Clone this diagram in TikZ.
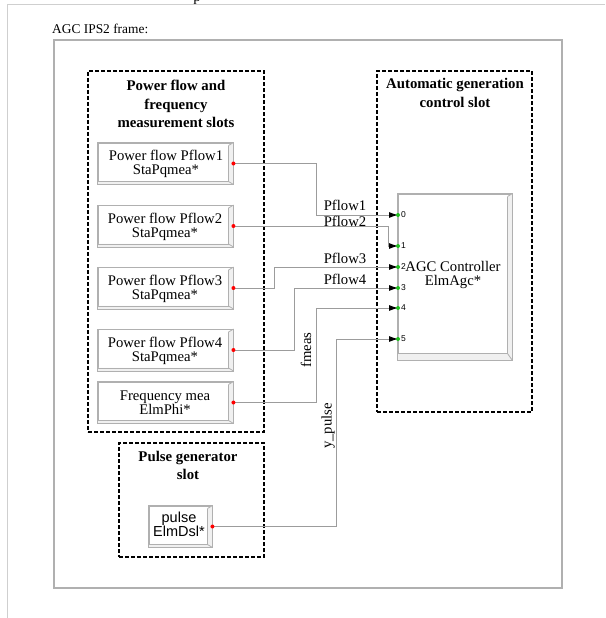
\documentclass[tikz,border=0pt]{standalone}
\usepackage{fontspec}
\setmainfont{Liberation Serif}
\newfontfamily\sansf{Liberation Sans}
\usetikzlibrary{arrows.meta,calc}
\definecolor{boxgray}{HTML}{B0B0B0}
\definecolor{wiregray}{HTML}{9C9C9C}
\definecolor{bevelfill}{HTML}{F0F0F0}
\definecolor{portgreen}{HTML}{1FC01F}
\definecolor{pagegray}{HTML}{CFCFCF}
\newcommand\fsz{\fontsize{14.7}{14.2}\selectfont}
\newcommand\mybevel[3]{%
  \fill[bevelfill] ([xshift=-#2,yshift=-3pt]#1.north east) -- (#1.north east) -- (#1.south east) -- (#1.south west) -- ([yshift=#3]#1.south west) -- ([xshift=-#2,yshift=#3]#1.south east) -- cycle;
  \draw[boxgray,line width=0.8pt] ([xshift=-#2,yshift=-3pt]#1.north east) -- ([xshift=-#2,yshift=#3]#1.south east) -- ([yshift=#3]#1.south west);
  \draw[boxgray,line width=0.8pt] ([xshift=-#2,yshift=#3]#1.south east) -- (#1.south east);
  \draw[boxgray,line width=0.8pt] ([xshift=-#2,yshift=-3pt]#1.north east) -- (#1.north east);
  \draw[boxgray,line width=0.9pt] (#1.north west) rectangle (#1.south east);
}
\tikzset{
  slot/.style={draw=black, line width=1.3pt, dash pattern=on 4pt off 2pt, inner sep=0pt},
  bevelbox/.style={draw=boxgray, fill=white, line width=0.9pt, inner sep=0pt, align=center, font=\fsz},
  slottitle/.style={font=\fontsize{14.8}{18.5}\selectfont\bfseries, align=center, inner sep=0pt},
  wire/.style={draw=wiregray, line width=0.9pt},
  inarrow/.style={-{Latex[length=9pt,width=6pt,color=black]}},
  wirelabel/.style={font=\fsz, inner sep=0pt},
  portnum/.style={font=\sansf\fontsize{8.5}{9}\selectfont, inner sep=0pt, anchor=west},
  reddot/.style={fill=red},
  greendot/.style={fill=portgreen}
}
\begin{document}
\begin{tikzpicture}[x=1pt,y=-1pt]
\useasboundingbox (0,0) rectangle (605,618);
\fill[white] (0,0) rectangle (605,618);
% page fragment
\begin{scope}
\clip (0,0) rectangle (605,618);
\node[anchor=base, font=\fsz, inner sep=0pt] (frag) at (197,1.5) {p};
\end{scope}
\draw[pagegray, line width=1pt] (605,5) -- (7,5) -- (7,618);
% title
\node[anchor=west, font=\fontsize{13.4}{14}\selectfont, inner sep=0pt] (title) at (52,29) {AGC IPS2 frame:};
% frame
\node[draw=boxgray, line width=1.2pt, minimum width=508pt, minimum height=548pt, inner sep=0pt] (frame) at (308,314) {};
% slots
\node[slot, minimum width=176pt, minimum height=361pt] (slotPF) at (176,251.5) {};
\node[slot, minimum width=155pt, minimum height=341pt] (slotAGC) at (454.5,241.5) {};
\node[slot, minimum width=145pt, minimum height=114pt] (slotPG) at (191.5,500) {};
\node[slottitle] (tPF) at (176,104) {Power flow and\\frequency\\measurement slots};
\node[slottitle] (tAGC) at (455,93) {Automatic generation\\control slot};
\node[slottitle] (tPG) at (188,465.5) {Pulse generator\\slot};
% boxes
\node[bevelbox, minimum width=135pt, minimum height=41pt] (p1) at (165.5,163.5) {};
\mybevel{p1}{5pt}{3pt}
\node[font=\fsz, align=center, inner sep=0pt] (p1t) at (166,164) {Power flow Pflow1\\StaPqmea*};
\node[bevelbox, minimum width=135pt, minimum height=41pt] (p2) at (165.5,226) {};
\mybevel{p2}{5pt}{3pt}
\node[font=\fsz, align=center, inner sep=0pt] (p2t) at (165,226.5) {Power flow Pflow2\\StaPqmea*};
\node[bevelbox, minimum width=135pt, minimum height=41pt] (p3) at (165.5,288) {};
\mybevel{p3}{5pt}{3pt}
\node[font=\fsz, align=center, inner sep=0pt] (p3t) at (165,288.5) {Power flow Pflow3\\StaPqmea*};
\node[bevelbox, minimum width=135pt, minimum height=41pt] (p4) at (165.5,350) {};
\mybevel{p4}{5pt}{3pt}
\node[font=\fsz, align=center, inner sep=0pt] (p4t) at (165,350.5) {Power flow Pflow4\\StaPqmea*};
\node[bevelbox, minimum width=135pt, minimum height=41pt] (fm) at (165.5,402.5) {};
\mybevel{fm}{5pt}{3pt}
\node[font=\fsz, align=center, inner sep=0pt] (fmt) at (165,403) {Frequency mea\\ElmPhi*};
\node[bevelbox, minimum width=63pt, minimum height=41pt] (pulse) at (180.5,526.5) {};
\mybevel{pulse}{5pt}{3pt}
\node[font=\sansf\fontsize{14.5}{13.5}\selectfont, align=center, inner sep=0pt] (pulset) at (179,524.5) {pulse\\ElmDsl*};
\node[bevelbox, minimum width=114pt, minimum height=166pt] (agc) at (455,277) {};
\mybevel{agc}{5pt}{7pt}
\node[font=\fsz, align=center, inner sep=0pt] (agct) at (453,275) {AGC Controller\\ElmAgc*};
% ports
\coordinate (in0) at (398,215);
\coordinate (in1) at (398,246);
\coordinate (in2) at (398,267);
\coordinate (in3) at (398,288);
\coordinate (in4) at (398,308);
\coordinate (in5) at (398,339);
% wires
\draw[wire, inarrow] (p1.east) -| ([xshift=-82pt]in0) -- (in0);
\draw[wire, inarrow] (p2.east) -| ([xshift=-10pt]in1) -- (in1);
\draw[wire, inarrow] (p3.east) -| ([xshift=-124pt]in2) -- (in2);
\draw[wire, inarrow] (p4.east) -| ([xshift=-104pt]in3) -- (in3);
\draw[wire, inarrow] (fm.east) -| ([xshift=-82pt]in4) -- (in4);
\draw[wire, inarrow] (pulse.east) -| ([xshift=-62pt]in5) -- (in5);
% dots
\foreach \n in {p1,p2,p3,p4,fm,pulse} \fill[reddot] (\n.east) circle (2pt);
\foreach \i in {0,...,5} {
  \fill[greendot] (in\i) circle (2pt);
  \node[portnum] (n\i) at ([xshift=3pt]in\i) {\i};
}
% labels
\node[wirelabel] (l1) at (345,205) {Pflow1};
\node[wirelabel] (l2) at (345,221) {Pflow2};
\node[wirelabel] (l3) at (345,258) {Pflow3};
\node[wirelabel] (l4) at (345,279) {Pflow4};
\node[wirelabel, rotate=90] (l5) at (306,350) {fmeas};
\node[wirelabel, rotate=90] (l6) at (328,426) {y\_pulse};
\end{tikzpicture}
\end{document}
